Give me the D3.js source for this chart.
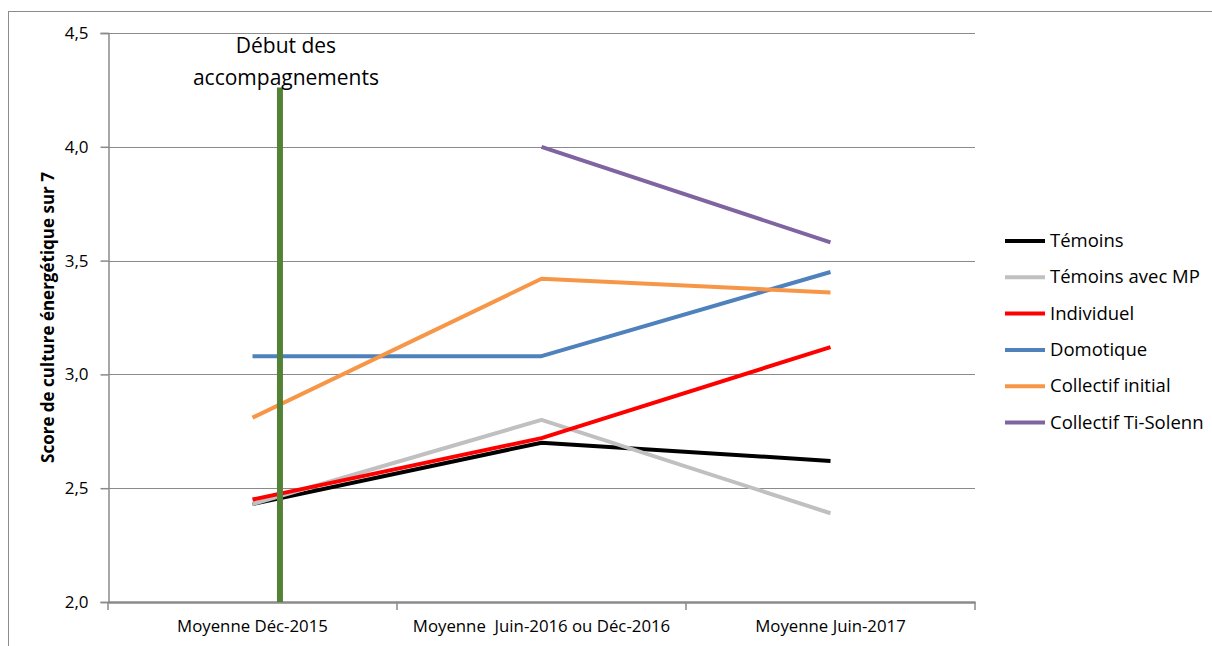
<!DOCTYPE html>
<html>
<head>
<meta charset="utf-8">
<script src="https://cdn.jsdelivr.net/npm/d3@7"></script>
<style>
  body { margin: 0; background: #fff; }
  text { font-family: "Open Sans", "Liberation Sans", sans-serif; fill: #000; }
</style>
</head>
<body>
<div id="wrapper"></div>
<script>
// data
const categories = ["Moyenne Déc-2015", "Moyenne  Juin-2016 ou Déc-2016", "Moyenne Juin-2017"];
const seriesNames = ["Témoins", "Témoins avec MP", "Individuel", "Domotique", "Collectif initial", "Collectif Ti-Solenn"];
const temoins = [2.43, 2.70, 2.62];
const temoinsMP = [2.43, 2.80, 2.39];
const individuel = [2.45, 2.72, 3.12];
const domotique = [3.08, 3.08, 3.45];
const collectifInitial = [2.81, 3.42, 3.36];
const collectifTiSolenn = [null, 4.00, 3.58];
const yTicks = [2.0, 2.5, 3.0, 3.5, 4.0, 4.5];
const colors = ["#000000", "#c0c0c0", "#ff0000", "#4f81bd", "#f79646", "#8064a2"];
// marker "Début des accompagnements": position in category index units, top value
const markerPos = 0.095;
const markerTop = 4.26;

function build() {
    const values = [temoins, temoinsMP, individuel, domotique, collectifInitial, collectifTiSolenn];

    const dimension = {
        width: 1212,
        height: 646,
        margin: { top: 33, right: 237, bottom: 44, left: 108 }
    };
    dimension.boundedWidth = dimension.width - dimension.margin.left - dimension.margin.right;
    dimension.boundedHeight = dimension.height - dimension.margin.top - dimension.margin.bottom;

    const svg = d3.select("#wrapper")
        .append("svg")
        .attr("width", dimension.width)
        .attr("height", dimension.height);

    // outer chart border
    svg.append("rect")
        .attr("x", 8.5).attr("y", 11.5)
        .attr("width", 1220).attr("height", 660)
        .attr("fill", "none")
        .attr("stroke", "#8c8c8c")
        .attr("stroke-width", 1);

    const bounds = svg.append("g")
        .attr("transform", `translate(${dimension.margin.left},${dimension.margin.top})`);

    const x = d3.scaleBand()
        .domain(categories)
        .range([0, dimension.boundedWidth]);
    const xIdx = d3.scaleLinear()
        .domain([0, 1])
        .range([x(categories[0]) + x.bandwidth() / 2, x(categories[1]) + x.bandwidth() / 2]);
    const y = d3.scaleLinear()
        .domain([2, 4.5])
        .range([dimension.boundedHeight, 0]);

    // gridlines
    bounds.append("g")
        .selectAll("line")
        .data(yTicks.slice(1))
        .enter()
        .append("line")
        .attr("x1", 0)
        .attr("x2", dimension.boundedWidth)
        .attr("y1", d => Math.round(y(d)) + 0.5)
        .attr("y2", d => Math.round(y(d)) + 0.5)
        .attr("stroke", "#8a8a8a")
        .attr("stroke-width", 1.2);

    // y axis
    const yAxis = bounds.append("g")
        .attr("transform", "translate(0.5,0)")
        .call(d3.axisLeft(y).tickValues(yTicks).tickSize(8).tickPadding(12)
            .tickFormat(d => d3.format(".1f")(d).replace(".", ",")));
    yAxis.selectAll("path, line").attr("stroke", "#8a8a8a").attr("stroke-width", 1.5);
    yAxis.selectAll("text").style("font-size", "17px").style("font-family", "'Open Sans', sans-serif");

    // x axis
    const xAxis = bounds.append("g")
        .attr("transform", `translate(0,${dimension.boundedHeight})`)
        .call(d3.axisBottom(x).tickSize(0).tickPadding(18));
    xAxis.select("path").attr("stroke", "#8a8a8a").attr("stroke-width", 2.5);
    xAxis.selectAll("text")
        .style("font-size", "16.8px")
        .style("font-family", "'Open Sans', sans-serif")
        .style("white-space", "pre");
    // boundary tick marks
    bounds.append("g")
        .selectAll("line")
        .data(d3.range(categories.length + 1))
        .enter()
        .append("line")
        .attr("x1", d => d * x.bandwidth())
        .attr("x2", d => d * x.bandwidth())
        .attr("y1", dimension.boundedHeight)
        .attr("y2", dimension.boundedHeight + 8)
        .attr("stroke", "#8a8a8a")
        .attr("stroke-width", 1.5);

    // series lines
    values.forEach((vals, i) => {
        const line = d3.line()
            .defined(d => d != null)
            .x((d, j) => x(categories[j]) + x.bandwidth() / 2)
            .y(d => y(d));
        bounds.append("path")
            .datum(vals)
            .attr("d", line)
            .attr("fill", "none")
            .attr("stroke", colors[i])
            .attr("stroke-width", 4)
            .attr("stroke-linejoin", "round");
    });

    // green marker
    bounds.append("line")
        .attr("x1", xIdx(markerPos))
        .attr("x2", xIdx(markerPos))
        .attr("y1", y(markerTop))
        .attr("y2", y(2))
        .attr("stroke", "#538135")
        .attr("stroke-width", 6);

    const note = bounds.append("text")
        .attr("y", 20)
        .style("text-anchor", "middle")
        .style("font-size", "21px");
    note.append("tspan").attr("x", xIdx(markerPos) + 6).attr("dy", 0).text("Début des");
    note.append("tspan").attr("x", xIdx(markerPos) + 6).attr("dy", 32).text("accompagnements");

    // y title
    svg.append("text")
        .attr("transform", `translate(54,${dimension.margin.top + dimension.boundedHeight / 2}) rotate(-90)`)
        .style("text-anchor", "middle")
        .style("font-size", "17px")
        .style("font-weight", "bold")
        .text("Score de culture énergétique sur 7");

    // legend
    const legend = svg.append("g")
        .attr("transform", "translate(1005,241)")
        .selectAll("g")
        .data(seriesNames)
        .enter()
        .append("g")
        .attr("transform", (d, i) => `translate(0,${i * 36.3})`);
    legend.append("line")
        .attr("x1", 0).attr("x2", 40)
        .attr("stroke", (d, i) => colors[i])
        .attr("stroke-width", 4);
    legend.append("text")
        .attr("x", 45)
        .attr("y", 6)
        .style("font-size", "18.5px")
        .text(d => d);
}

build();
</script>
</body>
</html>
